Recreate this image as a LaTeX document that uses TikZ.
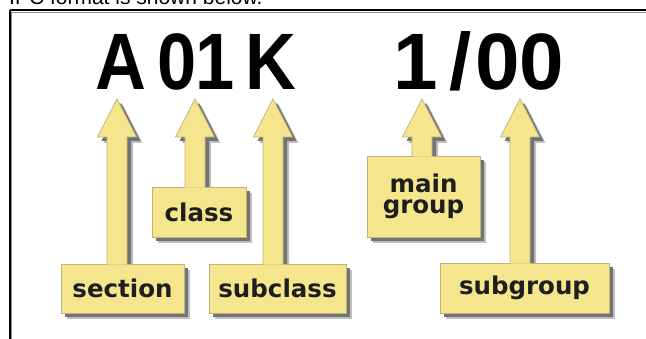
\documentclass[tikz,border=0pt]{standalone}
\usepackage{fontspec}
\setmainfont{Liberation Sans}
\newfontfamily\boxfont{DejaVu Sans}
\newfontfamily\condfont[FakeStretch=0.88]{Liberation Sans}
\usetikzlibrary{calc}
\pgfdeclarelayer{backlayer}
\pgfdeclarelayer{shadowlayer}
\pgfsetlayers{backlayer,shadowlayer,main}
\definecolor{yel}{HTML}{F5E68E}
\definecolor{yeledge}{HTML}{C2B478}
\definecolor{txt}{HTML}{1E1E1E}
\tikzset{
  bigchar/.style={font=\fontsize{80}{80}\selectfont\bfseries, inner sep=0pt, anchor=base, text=black},
  condchar/.style={bigchar, font=\condfont\fontsize{80}{80}\selectfont\bfseries},
  labelbox/.style={fill=yel, draw=yeledge, line width=0.8pt, inner sep=0pt, text=txt,
     font=\boxfont\bfseries\fontsize{24.5}{21}\selectfont, align=center},
  arrowbody/.style={fill=yel, draw=yeledge, line width=0.8pt, line join=miter},
  shadowA/.style={fill=black!55, draw=none},
  shadowB/.style={fill=black, opacity=0.25, draw=none}
}
% arrow from box #2 up to tip coordinate #1, offset #3 (open path: bottom not stroked)
\newcommand\yarrowpath[3]{($(#1 |- #2.north)+(-10+#3,1+#3)$) -- ($(#1)+(-10+#3,38+#3)$) -- ($(#1)+(-19.5+#3,38+#3)$) -- ($(#1)+(#3,#3)$) -- ($(#1)+(19.5+#3,38+#3)$) -- ($(#1)+(10+#3,38+#3)$) -- ($(#1 |- #2.north)+(10+#3,1+#3)$)}
\begin{document}
\begin{tikzpicture}[x=1pt,y=-1pt]
\useasboundingbox (0,0) rectangle (646,339);
\clip (0,0) rectangle (646,339);
\begin{pgfonlayer}{backlayer}
\fill[white] (0,0) rectangle (646,339);
\end{pgfonlayer}
% caption (cut off at top)
\node[font=\fontsize{21}{21}\selectfont, anchor=base west, inner sep=0pt] (cap) at (9,5) {IPC format is shown below.};
% frame
\draw[black!45, line width=1pt] (11.5,12.5) -- (700,12.5);
\draw[black!45, line width=1pt] (11.5,12.5) -- (11.5,400);
\draw[black, line width=2pt] (9.5,10.5) -- (700,10.5);
\draw[black, line width=2pt] (9.5,10.5) -- (9.5,400);
% code characters
\node[condchar] (cA) at (121,90) {A};
\node[condchar, anchor=base west] (c01) at (157,90) {0\kern-1pt1};
\node[condchar] (cK) at (271,90) {K};
\node[bigchar] (c1) at (416,90) {1};
\node[bigchar] (cslash) at (461,90) {/};
\node[bigchar] (c00) at (520,90) {00};
% arrow tips
\coordinate (tA) at (117,99);
\coordinate (t01) at (195,99);
\coordinate (tK) at (273,99);
\coordinate (t1) at (422,99);
\coordinate (t00) at (520,99);
% label boxes
\node[labelbox, minimum width=123pt, minimum height=49pt] (sec) at (122.5,288.5) {section};
\node[labelbox, minimum width=94pt, minimum height=50pt] (cls) at (199,212) {class};
\node[labelbox, minimum width=137pt, minimum height=49pt] (sub) at (277.5,288.5) {subclass};
\node[labelbox, minimum width=113pt, minimum height=81pt] (mg) at (423.5,196.5) {main\\group};
\node[labelbox, minimum width=169pt, minimum height=50pt] (sg) at (524.5,288) {subgroup};
% arrows
\path[arrowbody] \yarrowpath{tA}{sec}{0};
\path[arrowbody] \yarrowpath{t01}{cls}{0};
\path[arrowbody] \yarrowpath{tK}{sub}{0};
\path[arrowbody] \yarrowpath{t1}{mg}{0};
\path[arrowbody] \yarrowpath{t00}{sg}{0};
% shadows
\begin{pgfonlayer}{shadowlayer}
\foreach \dx/\st in {6/shadowB, 4/shadowA}{
    \foreach \b in {sec,cls,sub,mg,sg}{\fill[\st] ($(\b.north west)+(\dx,\dx)$) rectangle ($(\b.south east)+(\dx,\dx)$);}
    \fill[\st] \yarrowpath{tA}{sec}{\dx} -- cycle;
    \fill[\st] \yarrowpath{t01}{cls}{\dx} -- cycle;
    \fill[\st] \yarrowpath{tK}{sub}{\dx} -- cycle;
    \fill[\st] \yarrowpath{t1}{mg}{\dx} -- cycle;
    \fill[\st] \yarrowpath{t00}{sg}{\dx} -- cycle;
}
\end{pgfonlayer}
\end{tikzpicture}
\end{document}
